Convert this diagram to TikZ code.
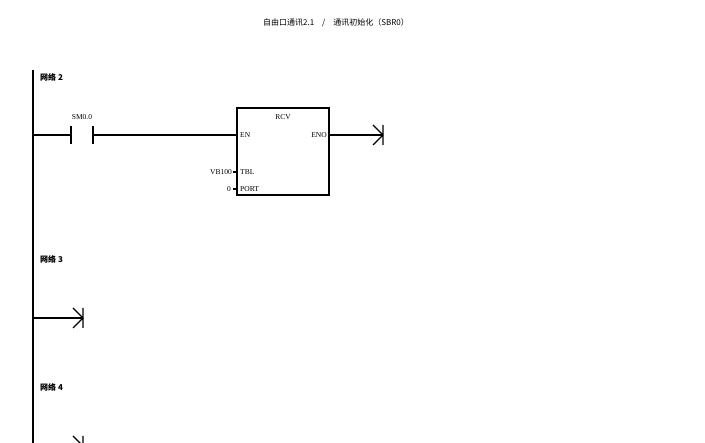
\documentclass[tikz,border=0pt]{standalone}
\usepackage{fontspec}
\setmainfont{Liberation Serif}
\newfontfamily\cjk{Noto Sans CJK SC}
\usetikzlibrary{positioning}
\tikzset{
  lbl/.style={font=\fontsize{7.5}{8}\selectfont, inner sep=0pt},
  net/.style={font=\cjk\bfseries\fontsize{8}{9}\selectfont, inner sep=0pt, anchor=west},
  wire/.style={line width=1.1pt},
  coil/.style={line width=1.1pt},
}
\begin{document}
\begin{tikzpicture}[x=1pt,y=-1pt]
        \useasboundingbox (0,0) rectangle (705,443);
        \begin{scope}
        \clip (0,0) rectangle (705,443);

        % Title
        \node[lbl, font=\cjk\fontsize{8}{9}\selectfont] (title) at (336,23) {自由口通讯2.1\quad/\quad 通讯初始化（SBR0）};

        % Power rail
        \draw[wire] (33,70) -- (33,450);

        % Network 2
        \node[net] (n2) at (40,77) {网络 2};
        \coordinate (r2) at (33,135);
        \coordinate (cl) at (71,135);
        \coordinate (cr) at (93,135);
        \draw[wire] (r2) -- (cl);
        \draw[wire] (71,126) -- (71,144);
        \draw[wire] (93,126) -- (93,144);
        \node[lbl] (sm) at (82,117) {SM0.0};

        % RCV box
        \node[draw, line width=1.1pt, minimum width=92pt, minimum height=87pt, inner sep=0pt] (rcv) at (283,151.5) {};
        \node[lbl] (rcvt) at (283,117) {RCV};
        \coordinate (en) at (237,135);
        \coordinate (eno) at (329,135);
        \node[lbl, anchor=west] (ent) at (240,135) {EN};
        \node[lbl, anchor=east] (enot) at (327,135) {ENO};
        \draw[wire] (cr) -- (en);

        % Inputs
        \node[lbl, anchor=west] (tbl) at (240,172) {TBL};
        \node[lbl, anchor=west] (port) at (240,189) {PORT};
        \node[lbl, anchor=east] (vb) at (232,172) {VB100};
        \node[lbl, anchor=east] (zero) at (231,189) {0};
        \draw[wire] (233,172) -- (237,172);
        \draw[wire] (233,189) -- (237,189);

        % Output to end
        \coordinate (e2) at (383,135);
        \draw[wire] (eno) -- (e2);
        \draw[coil] (383,125) -- (383,145) (373,125) -- (383,135) -- (373,145);

        % Network 3
        \node[net] (n3) at (40,259) {网络 3};
        \coordinate (r3) at (33,318);
        \coordinate (e3) at (83,318);
        \draw[wire] (r3) -- (e3);
        \draw[coil] (83,308) -- (83,328) (73,308) -- (83,318) -- (73,328);

        % Network 4
        \node[net] (n4) at (40,387) {网络 4};
        \draw[coil] (83,436) -- (83,456) (73,436) -- (83,446) -- (73,456);
        \end{scope}
\end{tikzpicture}
\end{document}
